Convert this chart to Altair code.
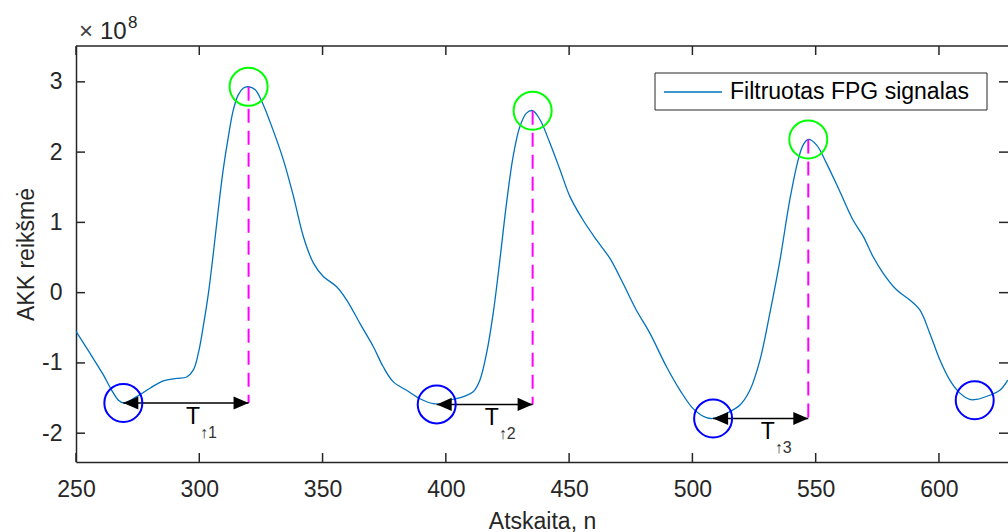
import altair as alt
import pandas as pd

FONT = "Liberation Sans"
AX = "#262626"

# ---- data (values in units of 1e8) ----
sig_x = [250, 255.7, 261.1, 264.5, 267.2, 269.2, 274.6, 280, 285.4, 290.8, 294.9, 297.6,
         299.6, 301.6, 303.7, 305.7, 307.7, 309.7, 311.8, 313.8, 315.8, 317.8, 319.9, 322.6,
         325.5, 328.7, 334.1, 338.2, 342.2, 346.3, 350.3, 355.7, 359.8, 365.2, 370.6, 374.6,
         378.7, 384.1, 389.5, 394.9, 398.3, 401.7, 407.1, 411.1, 413.8, 416.5, 419.2, 421.9,
         424.6, 427.3, 430, 432.7, 435.2, 438.2, 442.2, 446.3, 450.3, 455.7, 461.1, 466.5,
         471.9, 477.3, 482.8, 489.5, 495, 500.3, 505.7, 508.4, 513.8, 519.3, 523.3, 527.4,
         531.4, 535.5, 539.5, 542.9, 544.9, 547, 550.4, 554.4, 559.8, 565.2, 569.3, 573.3,
         577.4, 582.8, 588.2, 592.3, 596.3, 600.4, 604.4, 608.5, 612.5, 615.2, 620.6, 624.7,
         627.9]
sig_y = [-0.55, -0.865, -1.17, -1.39, -1.53, -1.568, -1.48, -1.36, -1.255, -1.22, -1.20, -1.10,
         -0.865, -0.485, -0.01, 0.56, 1.18, 1.75, 2.22, 2.60, 2.815, 2.91, 2.93, 2.89,
         2.71, 2.43, 1.89, 1.37, 0.80, 0.42, 0.23, 0.085, -0.105, -0.44, -0.77, -1.055,
         -1.27, -1.39, -1.51, -1.58, -1.58, -1.53, -1.48, -1.41, -1.245, -0.865, -0.295, 0.46,
         1.27, 1.94, 2.36, 2.555, 2.59, 2.46, 2.13, 1.75, 1.37, 1.03, 0.75, 0.49,
         0.13, -0.25, -0.58, -1.055, -1.39, -1.65, -1.78, -1.79, -1.72, -1.60, -1.39, -0.96,
         -0.295, 0.46, 1.32, 1.89, 2.10, 2.18, 2.10, 1.84, 1.44, 1.03, 0.80, 0.51,
         0.275, 0.04, -0.105, -0.25, -0.58, -0.96, -1.245, -1.43, -1.52, -1.52, -1.46, -1.39,
         -1.245]
peak_x = [320.0, 435.2, 547.0]
peak_y = [2.93, 2.59, 2.18]
trough_x = [269.2, 396.3, 508.4, 614.5]
trough_y = [-1.57, -1.59, -1.79, -1.53]
period_sub = ["\u21911", "\u21912", "\u21913"]
x_ticks = [250, 300, 350, 400, 450, 500, 550, 600]
y_ticks = [-2, -1, 0, 1, 2, 3]
legend_label = "Filtruotas FPG signalas"
x_title = "Atskaita, n"
y_title = "AKK reikšmė"

W, H = 932, 416
xs = alt.Scale(domain=[250, 628], nice=False, zero=False)
ys = alt.Scale(domain=[-2.41, 3.51], nice=False, zero=False)

x_axis = alt.Axis(
    values=x_ticks, title=x_title, ticks=False, tickSize=0, grid=False, labelFlush=False,
    labelOverlap=False, labelPadding=16, labelFontSize=23, labelFont=FONT, labelColor=AX,
    titleFont=FONT, titleFontSize=23, titleFontWeight="normal", titleColor=AX,
    titleY=66, titleBaseline="alphabetic", domainColor=AX, domainWidth=1.5)
y_axis = alt.Axis(
    values=y_ticks, title=y_title, ticks=False, tickSize=0, grid=False, labelFlush=False,
    labelOverlap=False, labelPadding=14, labelFontSize=23, labelFont=FONT, labelColor=AX,
    labelExpr="datum.value < 0 ? '-' + (-datum.value) : '' + datum.value",
    titleFont=FONT, titleFontSize=23, titleFontWeight="normal", titleColor=AX,
    titleX=-43, titleY=208, titleAngle=270, titleAlign="center", titleBaseline="alphabetic",
    domainColor=AX, domainWidth=1.5)


def X(f):
    return alt.X(f, scale=xs, axis=x_axis)


def Y(f):
    return alt.Y(f, scale=ys, axis=y_axis)


sig = pd.DataFrame({"x": sig_x, "y": sig_y})
peaks = pd.DataFrame({"x": peak_x, "y": peak_y})
troughs = pd.DataFrame({"x": trough_x, "y": trough_y})
periods = pd.DataFrame({
    "x0": trough_x[:3], "x1": peak_x, "yb": trough_y[:3], "yt": peak_y,
    "xm": [(a + b) / 2 for a, b in zip(trough_x[:3], peak_x)],
    "sub": period_sub,
})
one = pd.DataFrame({"k": [0]})
xt = pd.DataFrame({"v": x_ticks})
yt = pd.DataFrame({"v": y_ticks})

line = alt.Chart(sig).mark_line(color="#0072BD", strokeWidth=1.3, interpolate="catmull-rom", clip=True).encode(
    x=X("x:Q"), y=Y("y:Q"))

dashed = alt.Chart(periods).mark_rule(color="#FF00FF", strokeWidth=2, strokeDash=[14, 8]).encode(
    x=X("x1:Q"), y=Y("yt:Q"), y2="yb:Q")
shaft = alt.Chart(periods).mark_rule(color="black", strokeWidth=1.5).encode(
    x=X("x0:Q"), x2="x1:Q", y=Y("yb:Q"))
head_l = alt.Chart(periods).mark_point(shape="M0,0L2,-0.87L2,0.87Z", filled=True, size=225,
                                       color="black", opacity=1).encode(x=X("x0:Q"), y=Y("yb:Q"))
head_r = alt.Chart(periods).mark_point(shape="M0,0L-2,-0.87L-2,0.87Z", filled=True, size=225,
                                       color="black", opacity=1).encode(x=X("x1:Q"), y=Y("yb:Q"))
pk = alt.Chart(peaks).mark_point(shape="circle", filled=False, size=1444, strokeWidth=2,
                                 color="#00FF00", opacity=1).encode(x=X("x:Q"), y=Y("y:Q"))
tr = alt.Chart(troughs).mark_point(shape="circle", filled=False, size=1444, strokeWidth=2,
                                   color="#0000FF", opacity=1).encode(x=X("x:Q"), y=Y("y:Q"))
t_txt = alt.Chart(periods).mark_text(text="T", font=FONT, fontSize=23, color="black", dx=7, dy=14,
                                     align="center", baseline="middle").encode(x=X("xm:Q"), y=Y("yb:Q"))
t_sub = alt.Chart(periods).mark_text(font=FONT, fontSize=16, color="#333333", dx=14, dy=35,
                                     align="left", baseline="alphabetic").encode(
    x=X("xm:Q"), y=Y("yb:Q"), text="sub:N")

# inward ticks (MATLAB style)
tb = alt.Chart(xt).mark_rule(color=AX, strokeWidth=1.5).encode(x=X("v:Q"), y=alt.value(H), y2=alt.value(H - 9))
tt = alt.Chart(xt).mark_rule(color=AX, strokeWidth=1.5).encode(x=X("v:Q"), y=alt.value(0), y2=alt.value(9))
tl = alt.Chart(yt).mark_rule(color=AX, strokeWidth=1.5).encode(y=Y("v:Q"), x=alt.value(0), x2=alt.value(9))
trr = alt.Chart(yt).mark_rule(color=AX, strokeWidth=1.5).encode(y=Y("v:Q"), x=alt.value(W - 9), x2=alt.value(W))
top = alt.Chart(one).mark_rule(color=AX, strokeWidth=1.5).encode(x=alt.value(0), x2=alt.value(W), y=alt.value(0))

# legend
lg_box = alt.Chart(one).mark_rect(fill="white", stroke=AX, strokeWidth=1).encode(
    x=alt.value(579), x2=alt.value(911), y=alt.value(27), y2=alt.value(64))
lg_line = alt.Chart(one).mark_rule(color="#0072BD", strokeWidth=1.3).encode(
    x=alt.value(588), x2=alt.value(646), y=alt.value(46))
lg_text = alt.Chart(one).mark_text(font=FONT, fontSize=23, color="black", align="left", baseline="middle").encode(
    x=alt.value(654), y=alt.value(46), text=alt.value(legend_label))

# exponent
ex1 = alt.Chart(one).mark_text(font=FONT, fontSize=24, color="#404040", align="left", baseline="alphabetic").encode(
    x=alt.value(3), y=alt.value(-7), text=alt.value("\u00d7"))
ex2 = alt.Chart(one).mark_text(font=FONT, fontSize=24, color=AX, align="left", baseline="alphabetic").encode(
    x=alt.value(24), y=alt.value(-7), text=alt.value("10"))
ex3 = alt.Chart(one).mark_text(font=FONT, fontSize=17, color=AX, align="left", baseline="alphabetic").encode(
    x=alt.value(52), y=alt.value(-18), text=alt.value("8"))

chart = alt.layer(
    line, dashed, shaft, head_l, head_r, pk, tr, t_txt, t_sub,
    tb, tt, tl, trr, top, lg_box, lg_line, lg_text, ex1, ex2, ex3,
).properties(
    width=W, height=H,
    autosize=alt.AutoSizeParams(type="none"),
    padding={"left": 76, "top": 46, "right": 0, "bottom": 70},
).configure_view(strokeWidth=0)

chart.save("out.html", embed_options={"renderer": "svg", "actions": False})
